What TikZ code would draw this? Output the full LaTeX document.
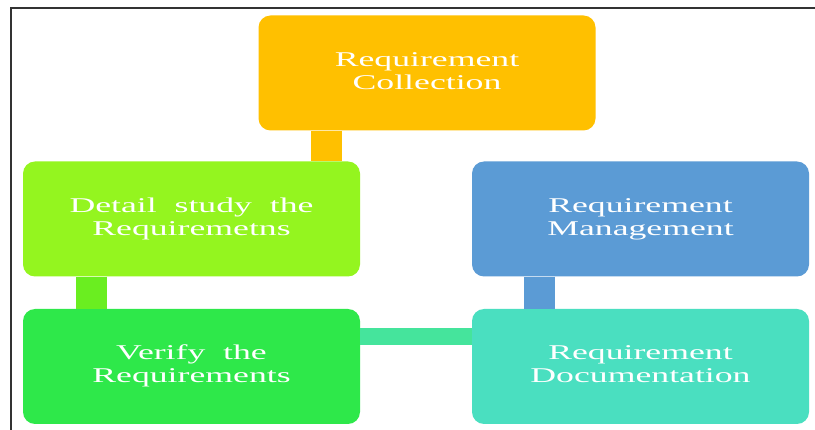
\documentclass[tikz,border=0pt]{standalone}
\usepackage{fontspec}
\setmainfont{Liberation Serif}
\usepackage{graphicx}
\definecolor{cOrange}{HTML}{FFC000}
\definecolor{cLime}{HTML}{94F51F}
\definecolor{cBlue}{HTML}{5B9BD5}
\definecolor{cGreen}{HTML}{2EE84A}
\definecolor{cTeal}{HTML}{4ADFC0}
\definecolor{cLimeLink}{HTML}{6AEE20}
\definecolor{cTealLink}{HTML}{45E49C}
\definecolor{frameGray}{HTML}{333333}
\newcommand{\boxtext}[2]{\raisebox{-2.5pt}{\scalebox{1.7}[1]{\fontsize{21}{23}\selectfont\begin{tabular}{@{}c@{}}#1\\#2\end{tabular}}}}
\tikzset{
  stagebox/.style={rounded corners=12pt, minimum width=337pt, minimum height=115pt,
    inner sep=0pt, text=white, anchor=center},
  link/.style={line width=31pt},
  hlink/.style={line width=17pt},
}
\begin{document}
\begin{tikzpicture}[x=1pt,y=-1pt]
  \useasboundingbox (0,0) rectangle (815,430);
  \fill[white] (0,0) rectangle (815,430);
  % frame edges
  \draw[frameGray, line width=2.4pt] (11,431) -- (11,8) -- (816,8);

  % stages
  \node[stagebox, fill=cOrange] (A) at (427,73) {\boxtext{Requirement}{Collection}};
  \node[stagebox, fill=cLime]   (B) at (191.5,219) {\boxtext{Detail\ \ study\ \ the}{Requiremetns}};
  \node[stagebox, fill=cBlue]   (C) at (640.5,219) {\boxtext{Requirement}{Management}};
  \node[stagebox, fill=cGreen]  (D) at (191.5,366.5) {\boxtext{Verify\ \ the}{Requirements}};
  \node[stagebox, fill=cTeal]   (E) at (640.5,366.5) {\boxtext{Requirement}{Documentation}};

  % links between stages
  \draw[link, cOrange] ([xshift=68.5pt]A.south west) -- ([xshift=68.5pt]A.south west |- B.north);
  \draw[link, cLimeLink] ([xshift=68.5pt]B.south west) -- ([xshift=68.5pt]B.south west |- D.north);
  \draw[hlink, cTealLink] ([yshift=-27.5pt]D.north east) -- ([yshift=-27.5pt]D.north east -| E.west);
  \draw[link, cBlue] ([xshift=68pt]C.south west) -- ([xshift=68pt]C.south west |- E.north);
\end{tikzpicture}
\end{document}
